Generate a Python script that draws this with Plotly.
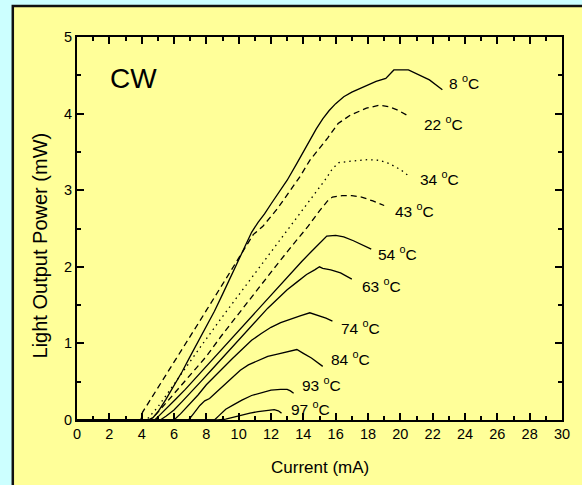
import plotly.graph_objects as go

# L-I curves of a laser diode under CW drive at several heat-sink temperatures
current_8 = [0, 4.4, 4.7, 5.05, 5.5, 6.0, 6.5, 7.0, 7.5, 8.0, 8.5, 9.0, 9.5, 10.0, 10.5, 10.8, 11.2, 11.6, 12.0, 12.5, 13.0, 13.6, 14.0, 14.4, 14.8, 15.2, 15.6, 16.0, 16.5, 17.0, 17.7, 18.5, 19.1, 19.35, 19.6, 20.5, 21.0, 21.8, 22.6]
power_8 = [0, 0, 0.03, 0.12, 0.27, 0.45, 0.63, 0.83, 1.02, 1.22, 1.42, 1.64, 1.87, 2.10, 2.32, 2.45, 2.58, 2.69, 2.82, 2.98, 3.13, 3.35, 3.50, 3.66, 3.80, 3.93, 4.04, 4.13, 4.22, 4.28, 4.35, 4.42, 4.46, 4.52, 4.57, 4.57, 4.52, 4.44, 4.31]

current_22 = [0, 3.95, 4.05, 4.5, 5.0, 5.5, 6.0, 6.5, 7.0, 7.5, 8.0, 8.5, 9.0, 9.5, 10.0, 10.5, 10.9, 11.5, 12.4, 13.2, 13.8, 14.4, 15.0, 15.5, 16.15, 16.9, 17.9, 18.7, 19.3, 19.8, 20.4]
power_22 = [0, 0, 0.10, 0.25, 0.41, 0.58, 0.75, 0.92, 1.09, 1.26, 1.43, 1.60, 1.77, 1.94, 2.10, 2.28, 2.42, 2.53, 2.76, 3.00, 3.18, 3.39, 3.55, 3.68, 3.87, 3.98, 4.07, 4.11, 4.09, 4.05, 3.98]

current_34 = [0, 4.3, 5.0, 6.0, 7.0, 8.0, 9.0, 10.0, 11.0, 12.0, 13.0, 14.0, 14.8, 15.4, 15.8, 16.2, 17.0, 18.0, 18.7, 19.3, 20.0, 20.5]
power_34 = [0, 0, 0.17, 0.47, 0.77, 1.06, 1.35, 1.63, 1.92, 2.20, 2.48, 2.76, 2.98, 3.15, 3.28, 3.36, 3.38, 3.40, 3.39, 3.35, 3.27, 3.19]

current_43 = [0, 4.55, 5.0, 5.5, 6.0, 6.6, 7.3, 8.0, 8.9, 10.0, 11.1, 12.3, 13.4, 14.3, 15.0, 15.5, 15.8, 16.4, 17.0, 17.6, 18.3, 19.0]
power_43 = [0, 0, 0.10, 0.22, 0.34, 0.48, 0.65, 0.83, 1.09, 1.39, 1.69, 2.01, 2.30, 2.53, 2.73, 2.86, 2.91, 2.93, 2.93, 2.91, 2.86, 2.80]

current_54 = [0, 4.8, 5.1, 5.6, 6.1, 6.7, 7.3, 7.9, 8.5, 9.1, 9.7, 10.3, 10.9, 11.5, 12.1, 12.7, 13.3, 13.9, 14.5, 15.0, 15.45, 16.0, 16.5, 17.1, 17.7, 18.2]
power_54 = [0, 0, 0.06, 0.16, 0.27, 0.40, 0.54, 0.68, 0.82, 0.96, 1.10, 1.24, 1.38, 1.52, 1.66, 1.80, 1.94, 2.07, 2.20, 2.31, 2.40, 2.41, 2.39, 2.34, 2.28, 2.23]

current_63 = [0, 5.15, 5.5, 6.0, 6.5, 7.1, 7.7, 8.3, 8.9, 9.5, 10.1, 10.7, 11.2, 11.8, 12.4, 13.0, 13.6, 14.2, 14.7, 15.0, 15.2, 15.7, 16.3, 17.0]
power_63 = [0, 0, 0.05, 0.13, 0.24, 0.37, 0.51, 0.65, 0.79, 0.93, 1.07, 1.21, 1.33, 1.46, 1.58, 1.70, 1.80, 1.90, 1.96, 2.00, 1.98, 1.96, 1.92, 1.84]

current_74 = [0, 6.0, 6.4, 6.9, 7.5, 8.0, 8.5, 9.0, 9.6, 10.2, 10.8, 11.4, 12.0, 12.6, 13.2, 13.8, 14.4, 14.9, 15.4, 15.8]
power_74 = [0, 0, 0.08, 0.19, 0.33, 0.46, 0.57, 0.68, 0.80, 0.92, 1.04, 1.13, 1.21, 1.27, 1.32, 1.36, 1.40, 1.37, 1.33, 1.29]

current_84 = [0, 6.9, 7.2, 7.6, 7.9, 8.2, 8.6, 9.1, 9.6, 10.1, 10.6, 11.2, 11.8, 12.4, 13.0, 13.6, 14.0, 14.5, 15.2]
power_84 = [0, 0, 0.08, 0.19, 0.25, 0.28, 0.36, 0.46, 0.56, 0.65, 0.72, 0.78, 0.83, 0.86, 0.89, 0.92, 0.87, 0.81, 0.70]

current_93 = [0, 8.5, 8.8, 9.2, 9.7, 10.2, 10.8, 11.4, 12.0, 12.6, 13.0, 13.2, 13.4]
power_93 = [0, 0, 0.06, 0.14, 0.20, 0.26, 0.32, 0.36, 0.39, 0.40, 0.40, 0.38, 0.35]

current_97 = [0, 8.7, 9.2, 9.7, 10.2, 10.7, 11.2, 11.7, 12.2, 12.45, 12.65]
power_97 = [0, 0, 0.01, 0.04, 0.07, 0.09, 0.11, 0.125, 0.135, 0.12, 0.09]

temperatures = ["8", "22", "34", "43", "54", "63", "74", "84", "93", "97"]
label_x = [22.9, 21.36, 21.12, 19.53, 18.49, 17.51, 16.23, 15.56, 13.78, 13.11]
label_y = [4.41, 3.88, 3.16, 2.74, 2.18, 1.76, 1.21, 0.81, 0.47, 0.16]

x_ticks = list(range(0, 31, 2))
y_ticks = list(range(0, 6))

series = [
    (current_8, power_8, "solid"),
    (current_22, power_22, "6px,4px"),
    (current_34, power_34, "1.5px,4px"),
    (current_43, power_43, "6px,4px"),
    (current_54, power_54, "solid"),
    (current_63, power_63, "solid"),
    (current_74, power_74, "solid"),
    (current_84, power_84, "solid"),
    (current_93, power_93, "solid"),
    (current_97, power_97, "solid"),
]

W, H = 582, 485
ML, MR, MT, MB = 77, 14, 37, 65
pw, ph = W - ML - MR, H - MT - MB

FONT = "Liberation Sans, Arial, sans-serif"

fig = go.Figure()
for (xs, ys, dash), t in zip(series, temperatures):
    fig.add_trace(go.Scatter(x=xs, y=ys, mode="lines", name=t + " °C",
                             line=dict(color="black", width=1.3, dash=dash),
                             cliponaxis=False, showlegend=False))

label_font = dict(family=FONT, size=15.5, color="black")
tick_font = dict(family=FONT, size=14.5, color="black")

annotations = []
for t, lx, ly in zip(temperatures, label_x, label_y):
    annotations.append(dict(x=lx, y=ly, xref="x", yref="y", text=t + " <sup>o</sup>C",
                            showarrow=False, xanchor="left", yanchor="middle", font=label_font))
annotations.append(dict(x=3.49, y=4.46, xref="x", yref="y", text="CW", showarrow=False,
                        xanchor="center", yanchor="middle",
                        font=dict(family=FONT, size=28, color="black")))
annotations.append(dict(x=0.5, y=(H - 467 - MB) / ph, xref="paper", yref="paper", text="Current (mA)",
                        showarrow=False, xanchor="center", yanchor="middle",
                        font=dict(family=FONT, size=17, color="black")))
annotations.append(dict(x=(40 - ML) / pw, y=(H - 245 - MB) / ph, xref="paper", yref="paper",
                        text="Light Output Power (mW)", textangle=-90, showarrow=False,
                        xanchor="center", yanchor="middle",
                        font=dict(family=FONT, size=20, color="black")))

# yellow panel with a dark frame on the light cyan page
shapes = [dict(type="rect", xref="paper", yref="paper", layer="below",
               x0=(12 - ML) / pw, x1=(W + 20 - ML) / pw,
               y0=(H - (H + 20) - MB) / ph, y1=(H - 6 - MB) / ph,
               fillcolor="#ffff99", line=dict(color="#111111", width=2.5))]

axis_common = dict(showgrid=False, zeroline=False, showline=True, linecolor="black", linewidth=2,
                   mirror="ticks", ticks="inside", ticklen=7, tickwidth=1.5, tickcolor="black",
                   tickfont=tick_font)

fig.update_layout(
    width=W, height=H,
    margin=dict(l=ML, r=MR, t=MT, b=MB),
    paper_bgcolor="#ccffff",
    plot_bgcolor="rgba(0,0,0,0)",
    shapes=shapes,
    annotations=annotations,
    xaxis=dict(range=[0, 30], tickvals=x_ticks, ticktext=[str(v) for v in x_ticks],
               minor=dict(dtick=1, ticks="inside", ticklen=4, tickwidth=1.5, tickcolor="black"),
               **axis_common),
    yaxis=dict(range=[0, 5], tickvals=y_ticks, ticktext=[str(v) for v in y_ticks],
               minor=dict(dtick=0.5, ticks="inside", ticklen=4, tickwidth=1.5, tickcolor="black"),
               **axis_common),
)

fig.write_html("out.html")
